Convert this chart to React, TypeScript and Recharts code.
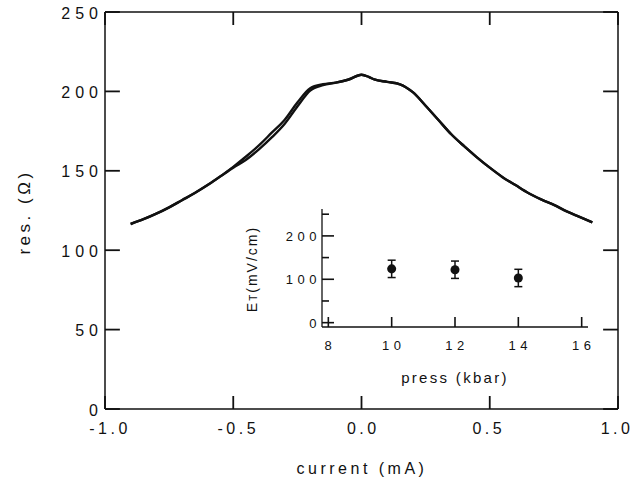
import React from 'react'
import { LineChart, Line, XAxis, YAxis, ScatterChart, Scatter, ErrorBar, Label, ReferenceLine } from 'recharts'

// main sweep: resistance vs current
const currentMA = [
  -0.9, -0.85, -0.8, -0.75, -0.7, -0.65, -0.6, -0.55, -0.5, -0.45, -0.4, -0.35, -0.3, -0.25,
  -0.2, -0.15, -0.1, -0.05, 0, 0.03, 0.05, 0.1, 0.15, 0.2, 0.25, 0.3, 0.35, 0.4, 0.45, 0.5,
  0.55, 0.6, 0.65, 0.7, 0.75, 0.8, 0.85, 0.9,
]
const resSweepUp = [
  116.5, 119.5, 123, 127, 131.5, 136, 141, 146.5, 152.5, 159, 166, 174, 182, 193,
  202, 204.5, 205.5, 207.5, 210.5, 209, 207.5, 206, 204.5, 199.5, 191, 182, 173, 165.5, 158.5, 152,
  146, 141, 136, 132, 128.5, 124.5, 121, 117.5,
]
const resSweepDown = [
  116.5, 119.5, 123, 127, 131.5, 136, 141, 146.5, 152, 157, 163.5, 171, 179.5, 190.5,
  200.5, 204, 205.5, 207.5, 210.5, 209, 207.5, 206, 204.5, 199.5, 191, 182, 173, 165.5, 158.5, 152,
  146, 141, 136, 132, 128.5, 124.5, 121, 117.5,
]
const mainXTicks = [-1, -0.5, 0, 0.5, 1]
const mainYTicks = [0, 50, 100, 150, 200, 250]

// inset: threshold field vs pressure
const pressKbar = [10, 12, 14]
const fieldET = [124, 122, 103]
const fieldErr = [20, 20, 20]
const insetXTicks = [8, 10, 12, 14, 16]
const insetYTicks = [0, 50, 100, 150, 200, 250]

const curveData = currentMA.map((c, i) => ({ c, up: resSweepUp[i], down: resSweepDown[i] }))
const insetData = pressKbar.map((p, i) => ({ p, e: fieldET[i], err: fieldErr[i] }))

const FONT = '"Liberation Sans", Arial, Helvetica, sans-serif'
const INK = '#111'
const axisStyle = { stroke: INK, strokeWidth: 1.5 }
const insetAxisStyle = { stroke: INK, strokeWidth: 1.3 }

// inward tick lengths, in axis units (~13px / ~15px)
const X_TICK_LEN = 8.2
const Y_TICK_LEN = 0.058

const fmt1 = (v: number) => v.toFixed(1)

function BottomLabel(props: any) {
  const { x, y, payload } = props
  const v = payload.value
  const shift = v < 0 ? 5 : v > 0 ? -1 : 1.75
  return (
    <text x={x + shift} y={y + 25} textAnchor="middle" fontSize={16} letterSpacing={3.5} fill={INK} fontFamily={FONT}>
      {fmt1(v)}
    </text>
  )
}

function LeftLabel(props: any) {
  const { x, y, payload } = props
  return (
    <text x={x - 2} y={y + 6.5} textAnchor="end" fontSize={16} letterSpacing={5} fill={INK} fontFamily={FONT}>
      {payload.value}
    </text>
  )
}

const NoLabel = () => <g />

function InsetBottomTick(props: any) {
  const { x, y, payload } = props
  return (
    <g>
      <path d={`M${x},${y}V${y - 10}`} stroke={INK} strokeWidth={1.6} fill="none" />
      <text x={x + 2} y={y + 23} textAnchor="middle" fontSize={13} letterSpacing={4.5} fill={INK} fontFamily={FONT}>
        {payload.value}
      </text>
    </g>
  )
}

function InsetLeftTick(props: any) {
  const { x, y, payload } = props
  const major = payload.value % 100 === 0
  return (
    <g>
      <path d={`M${x},${y}H${x + (major ? 12 : 7)}`} stroke={INK} strokeWidth={1.6} fill="none" />
      {major && (
        <text x={x - 1} y={y + 5} textAnchor="end" fontSize={13} letterSpacing={4.5} fill={INK} fontFamily={FONT}>
          {payload.value}
        </text>
      )}
    </g>
  )
}

export default function App() {
  return (
    <div style={{ position: 'absolute', left: 0, top: 0, width: 634, height: 482, background: '#fff' }}>
      <div style={{ position: 'absolute', left: 0, top: 0 }}>
        <LineChart width={634} height={482} data={curveData} margin={{ top: 2, right: 6, bottom: 43, left: 45 }}>
          <XAxis
            dataKey="c"
            type="number"
            domain={[-1, 1]}
            ticks={mainXTicks}
            interval={0}
            height={30}
            tickSize={0}
            tickMargin={0}
            tickLine={false}
            tick={BottomLabel}
            axisLine={axisStyle}
          >
            <Label
              content={() => (
                <text x={362} y={474} textAnchor="middle" fontSize={16} letterSpacing={3.5} fill={INK} fontFamily={FONT}>
                  {'current  (mA)'}
                </text>
              )}
            />
          </XAxis>
          <XAxis
            xAxisId="t"
            dataKey="c"
            type="number"
            orientation="top"
            domain={[-1, 1]}
            ticks={mainXTicks}
            interval={0}
            height={10}
            tickSize={0}
            tickMargin={0}
            tickLine={false}
            tick={NoLabel}
            axisLine={axisStyle}
          />
          <YAxis
            type="number"
            domain={[0, 250]}
            ticks={mainYTicks}
            interval={0}
            width={60}
            tickSize={0}
            tickMargin={0}
            tickLine={false}
            tick={LeftLabel}
            axisLine={axisStyle}
          >
            <Label
              content={() => (
                <text
                  x={30}
                  y={212}
                  transform="rotate(-90 30 212)"
                  textAnchor="middle"
                  fontSize={17}
                  letterSpacing={3.5}
                  fill={INK}
                  fontFamily={FONT}
                >
                  {'res. (\u03A9)'}
                </text>
              )}
            />
          </YAxis>
          <YAxis
            yAxisId="r"
            orientation="right"
            type="number"
            domain={[0, 250]}
            ticks={mainYTicks}
            interval={0}
            width={10}
            tickSize={0}
            tickMargin={0}
            tickLine={false}
            tick={NoLabel}
            axisLine={axisStyle}
          />

          {/* inward tick marks on all four sides */}
          {mainXTicks.map((t) => (
            <ReferenceLine
              key={`xb${t}`}
              segment={[{ x: t, y: 0 }, { x: t, y: X_TICK_LEN }]}
              stroke={INK}
              strokeWidth={1.8}
            />
          ))}
          {mainXTicks.map((t) => (
            <ReferenceLine
              key={`xt${t}`}
              segment={[{ x: t, y: 250 }, { x: t, y: 250 - X_TICK_LEN }]}
              stroke={INK}
              strokeWidth={1.8}
            />
          ))}
          {mainYTicks.map((t) => (
            <ReferenceLine
              key={`yl${t}`}
              segment={[{ x: -1, y: t }, { x: -1 + Y_TICK_LEN, y: t }]}
              stroke={INK}
              strokeWidth={1.8}
            />
          ))}
          {mainYTicks.map((t) => (
            <ReferenceLine
              key={`yr${t}`}
              segment={[{ x: 1, y: t }, { x: 1 - Y_TICK_LEN, y: t }]}
              stroke={INK}
              strokeWidth={1.8}
            />
          ))}

          <Line dataKey="up" type="monotone" stroke={INK} strokeWidth={2.4} dot={false} isAnimationActive={false} />
          <Line dataKey="down" type="monotone" stroke={INK} strokeWidth={2.4} dot={false} isAnimationActive={false} />
        </LineChart>
      </div>

      <div style={{ position: 'absolute', left: 0, top: 0 }}>
        <ScatterChart width={634} height={482} margin={{ top: 209, right: 46, bottom: 125, left: 282 }}>
          <XAxis
            dataKey="p"
            type="number"
            domain={[7.8, 16.2]}
            ticks={insetXTicks}
            interval={0}
            height={30}
            tickSize={0}
            tickMargin={0}
            tickLine={false}
            tick={InsetBottomTick}
            axisLine={insetAxisStyle}
          >
            <Label
              content={() => (
                <text x={455} y={383} textAnchor="middle" fontSize={15} letterSpacing={2.3} fill={INK} fontFamily={FONT}>
                  {'press  (kbar)'}
                </text>
              )}
            />
          </XAxis>
          <YAxis
            dataKey="e"
            type="number"
            domain={[-10, 262]}
            ticks={insetYTicks}
            interval={0}
            width={40}
            tickSize={0}
            tickMargin={0}
            tickLine={false}
            tick={InsetLeftTick}
            axisLine={insetAxisStyle}
          >
            <Label
              content={() => (
                <text
                  x={257}
                  y={269}
                  transform="rotate(-90 257 269)"
                  textAnchor="middle"
                  fontSize={14}
                  letterSpacing={2}
                  fill={INK}
                  fontFamily={FONT}
                >
                  <tspan>E</tspan>
                  <tspan fontSize={10}>T</tspan>
                  <tspan>(mV/cm)</tspan>
                </text>
              )}
            />
          </YAxis>
          <Scatter data={insetData} fill={INK} isAnimationActive={false}>
            <ErrorBar dataKey="err" direction="y" width={4} stroke={INK} strokeWidth={1.5} />
          </Scatter>
        </ScatterChart>
      </div>
    </div>
  )
}
